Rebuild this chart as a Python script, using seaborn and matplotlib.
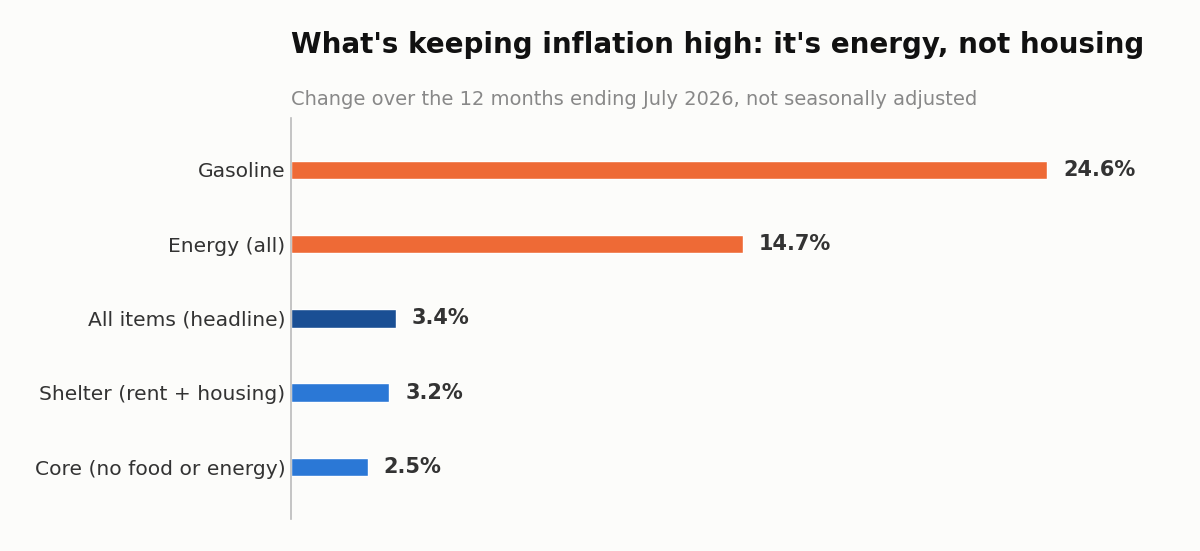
import pandas as pd
import seaborn as sns
import matplotlib.pyplot as plt

# Данные
categories = ['Gasoline', 'Energy (all)', 'All items (headline)',
              'Shelter (rent + housing)', 'Core (no food or energy)']
values = [24.6, 14.7, 3.4, 3.2, 2.5]
colors = ['#EE6A36', '#EE6A36', '#1A4F94', '#2B78D6', '#2B78D6']

df = pd.DataFrame({'category': categories, 'value': values})

sns.set_theme(style='white')
plt.rcParams['font.family'] = ['DejaVu Sans']

bg = '#FCFCFA'
fig = plt.figure(figsize=(12, 5.51), dpi=100, facecolor=bg)
ax = fig.add_axes([0.2425, 0.058, 0.72, 0.728])
ax.set_facecolor(bg)

sns.barplot(data=df, x='value', y='category', hue='category',
            palette=colors, saturation=1, legend=False, width=0.25, ax=ax)

ax.set_xlim(0, 28.1)
ax.set_ylim(4.7, -0.7)
ax.set_xlabel('')
ax.set_ylabel('')
ax.set_xticks([])
ax.tick_params(axis='y', length=0, pad=4, labelsize=14.6, labelcolor='#333333')

for s in ['top', 'right', 'bottom']:
    ax.spines[s].set_visible(False)
ax.spines['left'].set_color('#BBBBBB')
ax.spines['left'].set_linewidth(1.2)

# Подписи значений
for i, v in enumerate(values):
    ax.annotate(f'{v}%', xy=(v, i), xytext=(11.5, 0), textcoords='offset points',
                va='center', ha='left', fontsize=15, fontweight='bold',
                color='#333333')

# Заголовок и подзаголовок
fig.text(0.2425, 0.918, "What's keeping inflation high: it's energy, not housing",
         fontsize=20, fontweight='bold', color='#111111', ha='left', va='center')
fig.text(0.2425, 0.82, 'Change over the 12 months ending July 2026, not seasonally adjusted',
         fontsize=14, color='#888888', ha='left', va='center')

plt.savefig('out.png', dpi=100, facecolor=bg)
